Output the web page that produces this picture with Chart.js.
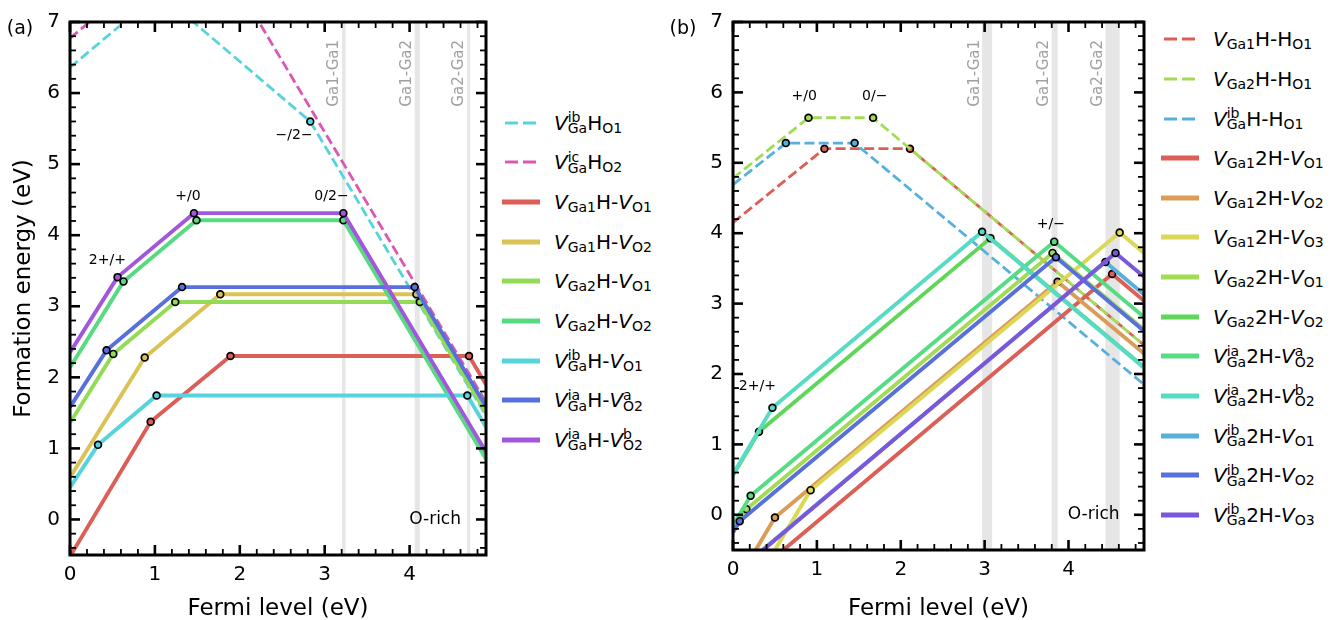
<!DOCTYPE html>
<html>
<head>
<meta charset="utf-8">
<script src="https://cdn.jsdelivr.net/npm/chart.js@4.4.1/dist/chart.umd.min.js"></script>
<style>
  body { margin: 0; width: 1343px; height: 620px; overflow: hidden; position: relative; background: #fff;
         font-family: "DejaVu Sans", sans-serif; color: #000; }
  canvas { position: absolute; top: 0; }
  #chartA { left: 0; }
  #chartB { left: 663px; }
  .row { position: absolute; height: 40px; white-space: nowrap; font-size: 20px; line-height: 40px; }
  .row svg { position: absolute; left: 0; top: 16px; }
  .row .t { position: absolute; top: 0; }
  .row i { font-style: italic; }
  .row sub { font-size: 14px; vertical-align: -3.4px; line-height: 1; }
  .ss { display: inline-block; vertical-align: -3.4px; font-size: 14px; line-height: 11px; }
  .ss span { display: block; }
</style>
</head>
<body>
<canvas id="chartA" width="495" height="620"></canvas>
<canvas id="chartB" width="490" height="620"></canvas>
<script>
const FONT = '"DejaVu Sans", sans-serif';

// axes
const fermiTicks = [0, 1, 2, 3, 4];
const energyTicks = [0, 1, 2, 3, 4, 5, 6, 7];

// ---- panel (a): [Fermi level, formation energy] vertices
const aVibHO1    = [[0, 6.36], [1.05, 7.41], [2.83, 5.60], [4.9, 1.46]];
const aVicHO2    = [[0, 6.77], [1.56, 8.33], [4.9, 1.65]];
const aVGa1HVO1  = [[0, -0.52], [0.95, 1.375], [1.89, 2.30], [4.70, 2.30], [4.9, 1.90]];
const aVGa1HVO2  = [[0, 0.59], [0.88, 2.28], [1.77, 3.17], [4.08, 3.17], [4.9, 1.53]];
const aVGa2HVO1  = [[0, 1.36], [0.51, 2.33], [1.24, 3.06], [4.12, 3.06], [4.9, 1.50]];
const aVGa2HVO2  = [[0, 2.14], [0.63, 3.35], [1.49, 4.21], [3.22, 4.21], [4.9, 0.85]];
const aVibHVO1   = [[0, 0.45], [0.33, 1.05], [1.02, 1.745], [4.68, 1.745], [4.9, 1.30]];
const aViaHVO2a  = [[0, 1.58], [0.43, 2.38], [1.32, 3.27], [4.06, 3.27], [4.9, 1.59]];
const aViaHVO2b  = [[0, 2.35], [0.56, 3.41], [1.46, 4.31], [3.22, 4.31], [4.9, 0.95]];

const bandsA = [[3.205, 3.245], [4.06, 4.12], [4.675, 4.715]];
const notesA = [['2+/+', 0.44, 3.64], ['+/0', 1.39, 4.54], ['\u2212/2\u2212', 2.64, 5.40], ['0/2\u2212', 3.08, 4.54]];

// ---- panel (b)
const bVGa1HHO1  = [[0, 4.15], [1.09, 5.20], [2.11, 5.20], [4.9, 2.41]];
const bVGa2HHO1  = [[0, 4.78], [0.90, 5.64], [1.67, 5.64], [4.9, 2.41]];
const bVibHHO1   = [[0, 4.69], [0.63, 5.28], [1.45, 5.28], [4.9, 1.85]];
const bVGa12HVO1 = [[0, -1.10], [4.52, 3.42], [4.9, 3.04]];
const bVGa12HVO2 = [[0, -1.04], [0.50, -0.04], [3.87, 3.31], [4.9, 2.29]];
const bVGa12HVO3 = [[0, -1.50], [0.925, 0.35], [4.61, 4.01], [4.9, 3.72]];
const bVGa22HVO1 = [[0, -0.24], [0.16, 0.08], [3.81, 3.72], [4.9, 2.63]];
const bVGa22HVO2 = [[0, 0.56], [0.31, 1.18], [3.07, 3.93], [4.9, 2.10]];
const bVia2HVO2a = [[0, -0.15], [0.21, 0.27], [3.83, 3.88], [4.9, 2.81]];
const bVia2HVO2b = [[0, 0.58], [0.47, 1.52], [2.97, 4.02], [4.9, 2.09]];
const bVib2HVO1  = [[0, -0.85], [4.44, 3.59], [4.9, 3.13]];
const bVib2HVO2  = [[0, -0.25], [0.08, -0.09], [3.85, 3.66], [4.9, 2.61]];
const bVib2HVO3  = [[0, -0.86], [4.56, 3.72], [4.9, 3.38]];

const bandsB = [[2.97, 3.09], [3.80, 3.87], [4.44, 4.61]];
const notesB = [['+/0', 0.85, 5.95], ['0/\u2212', 1.69, 5.95], ['2+/+', 0.29, 1.83], ['+/\u2212', 3.79, 4.12]];

const bandNames = ['Ga1-Ga1', 'Ga1-Ga2', 'Ga2-Ga2'];
const richLabel = 'O-rich';

// legend text (V italic, scripts stacked like mathtext)
const sb = t => `<sub>${t}</sub>`;
const v = (sub, sup) => '<i>V</i>' + (sup ? `<span class="ss"><span>${sup}</span><span>${sub}</span></span>` : sb(sub));

const namesA = [
  v('Ga', 'ib') + 'H' + sb('O1'),
  v('Ga', 'ic') + 'H' + sb('O2'),
  v('Ga1') + 'H-' + v('O1'),
  v('Ga1') + 'H-' + v('O2'),
  v('Ga2') + 'H-' + v('O1'),
  v('Ga2') + 'H-' + v('O2'),
  v('Ga', 'ib') + 'H-' + v('O1'),
  v('Ga', 'ia') + 'H-' + v('O2', 'a'),
  v('Ga', 'ia') + 'H-' + v('O2', 'b'),
];
const namesB = [
  v('Ga1') + 'H-H' + sb('O1'),
  v('Ga2') + 'H-H' + sb('O1'),
  v('Ga', 'ib') + 'H-H' + sb('O1'),
  v('Ga1') + '2H-' + v('O1'),
  v('Ga1') + '2H-' + v('O2'),
  v('Ga1') + '2H-' + v('O3'),
  v('Ga2') + '2H-' + v('O1'),
  v('Ga2') + '2H-' + v('O2'),
  v('Ga', 'ia') + '2H-' + v('O2', 'a'),
  v('Ga', 'ia') + '2H-' + v('O2', 'b'),
  v('Ga', 'ib') + '2H-' + v('O1'),
  v('Ga', 'ib') + '2H-' + v('O2'),
  v('Ga', 'ib') + '2H-' + v('O3'),
];

// styles
const colorsA = ['#57d3db', '#db57b2', '#db5f57', '#dbc257', '#91db57', '#57db80', '#57d3db', '#5770db', '#a157db'];
const dashedA = [true, true, false, false, false, false, false, false, false];
const colorsB = ['#db5f57', '#a3db57', '#57b0db', '#db5f57', '#db9c57', '#dbd857', '#a3db57', '#5fd657',
                 '#57db85', '#57dbc4', '#57b0db', '#5770db', '#7a57db'];
const dashedB = [true, true, true, false, false, false, false, false, false, false, false, false, false];

// bands, band labels, frame with inward ticks, annotations
function makeDeco(bands, notes, letter) {
  return {
    id: 'deco',
    beforeDatasetsDraw(chart) {
      const { ctx, chartArea: a, scales: { x } } = chart;
      ctx.save();
      bands.forEach(([b0, b1], i) => {
        const x0 = x.getPixelForValue(b0), x1 = x.getPixelForValue(b1);
        ctx.fillStyle = '#e6e6e6';
        ctx.fillRect(x0, a.top, x1 - x0, a.bottom - a.top);
        ctx.save();
        ctx.translate(x0 - 7.5, a.top + 18);
        ctx.rotate(-Math.PI / 2);
        ctx.fillStyle = '#a0a0a0';
        ctx.font = '15px ' + FONT;
        ctx.textAlign = 'right';
        ctx.textBaseline = 'middle';
        ctx.fillText(bandNames[i], 0, 0);
        ctx.restore();
      });
      ctx.restore();
    },
    afterDraw(chart) {
      const { ctx, chartArea: a, scales: { x, y } } = chart;
      ctx.save();
      ctx.strokeStyle = '#000';
      const seg = (x0, y0, x1, y1, w) => {
        ctx.lineWidth = w; ctx.beginPath(); ctx.moveTo(x0, y0); ctx.lineTo(x1, y1); ctx.stroke();
      };
      for (let k = 0; k <= 24; k++) {
        const px = x.getPixelForValue(k / 5), major = k % 5 === 0;
        const L = major ? 10 : 6, w = major ? 2.6 : 1.8;
        seg(px, a.bottom, px, a.bottom - L, w);
        seg(px, a.top, px, a.top + L, w);
      }
      for (let k = -2; k <= 35; k++) {
        const py = y.getPixelForValue(k / 5), major = k % 5 === 0;
        const L = major ? 10 : 6, w = major ? 2.6 : 1.8;
        seg(a.left, py, a.left + L, py, w);
        seg(a.right, py, a.right - L, py, w);
      }
      ctx.lineWidth = 3;
      ctx.strokeRect(a.left, a.top, a.right - a.left, a.bottom - a.top);

      ctx.fillStyle = '#000';
      ctx.textAlign = 'center';
      ctx.textBaseline = 'middle';
      ctx.font = '14px ' + FONT;
      notes.forEach(([t, vx, vy]) => ctx.fillText(t, x.getPixelForValue(vx), y.getPixelForValue(vy)));
      ctx.font = '17px ' + FONT;
      ctx.fillText(richLabel, x.getPixelForValue(4.3), y.getPixelForValue(0));
      ctx.font = '19px ' + FONT;
      ctx.fillText(letter, 20, 29);
      ctx.restore();
    }
  };
}

function panel(id, lines, colors, dashed, deco, xAxisHeight, yTitle) {
  return new Chart(document.getElementById(id), {
    type: 'scatter',
    data: {
      datasets: lines.map((pts, i) => ({
        data: pts.map(([x, y]) => ({ x, y })),
        showLine: true,
        borderColor: colors[i],
        backgroundColor: colors[i],
        borderWidth: dashed[i] ? 2.8 : 3.9,
        borderDash: dashed[i] ? [10, 4.3] : [],
        borderJoinStyle: 'round',
        pointRadius: c => (c.dataIndex > 0 && c.dataIndex < pts.length - 1) ? 3.4 : 0,
        pointBorderColor: '#000',
        pointBackgroundColor: colors[i],
        pointBorderWidth: 1.7,
        clip: 0,
        order: lines.length - i,
      }))
    },
    options: {
      responsive: false,
      devicePixelRatio: 1,
      animation: false,
      events: [],
      layout: { padding: { top: 15, right: 9, left: 0, bottom: 0 } },
      plugins: { legend: { display: false }, tooltip: { enabled: false } },
      scales: {
        x: {
          type: 'linear', min: 0, max: 4.9,
          afterBuildTicks: s => { s.ticks = fermiTicks.map(value => ({ value })); },
          afterFit: s => { s.height = xAxisHeight; },
          grid: { display: false, drawTicks: false },
          border: { display: false },
          ticks: { color: '#000', font: { family: FONT, size: 20 }, padding: 8 },
          title: { display: true, text: 'Fermi level (eV)', color: '#000',
                   font: { family: FONT, size: 23 }, padding: { top: 0, bottom: -3 } }
        },
        y: {
          type: 'linear', min: -0.5, max: 7,
          afterBuildTicks: s => { s.ticks = energyTicks.map(value => ({ value })); },
          afterFit: s => { s.width = 70; },
          grid: { display: false, drawTicks: false },
          border: { display: false },
          ticks: { color: '#000', font: { family: FONT, size: 20 }, padding: 10 },
          title: { display: yTitle, text: 'Formation energy (eV)', color: '#000',
                   font: { family: FONT, size: 23 }, padding: { top: 10, bottom: 0 } }
        }
      }
    },
    plugins: [deco]
  });
}

function legend(chart, names, left, top) {
  chart.data.datasets.forEach((ds, i) => {
    const row = document.createElement('div');
    row.className = 'row';
    row.style.left = left + 'px';
    row.style.top = (top + i * 39.65 - 20) + 'px';
    const dash = ds.borderDash.length ? 'stroke-dasharray="13 5"' : '';
    const x1 = ds.borderDash.length ? 3 : 0;
    const w = ds.borderDash.length ? 2.8 : 4.8;
    row.innerHTML = `<svg width="38" height="8"><line x1="${x1}" y1="4" x2="38" y2="4" stroke="${ds.borderColor}" stroke-width="${w}" ${dash}/></svg>` +
                    `<span class="t" style="left:52px">${names[i]}</span>`;
    document.body.appendChild(row);
  });
}

const chartA = panel('chartA',
  [aVibHO1, aVicHO2, aVGa1HVO1, aVGa1HVO2, aVGa2HVO1, aVGa2HVO2, aVibHVO1, aViaHVO2a, aViaHVO2b],
  colorsA, dashedA, makeDeco(bandsA, notesA, '(a)'), 65, true);

const chartB = panel('chartB',
  [bVGa1HHO1, bVGa2HHO1, bVibHHO1, bVGa12HVO1, bVGa12HVO2, bVGa12HVO3, bVGa22HVO1, bVGa22HVO2,
   bVia2HVO2a, bVia2HVO2b, bVib2HVO1, bVib2HVO2, bVib2HVO3],
  colorsB, dashedB, makeDeco(bandsB, notesB, '(b)'), 70, false);

legend(chartA, namesA, 502, 122.7);
legend(chartB, namesB, 1161, 39.2);
</script>
</body>
</html>
